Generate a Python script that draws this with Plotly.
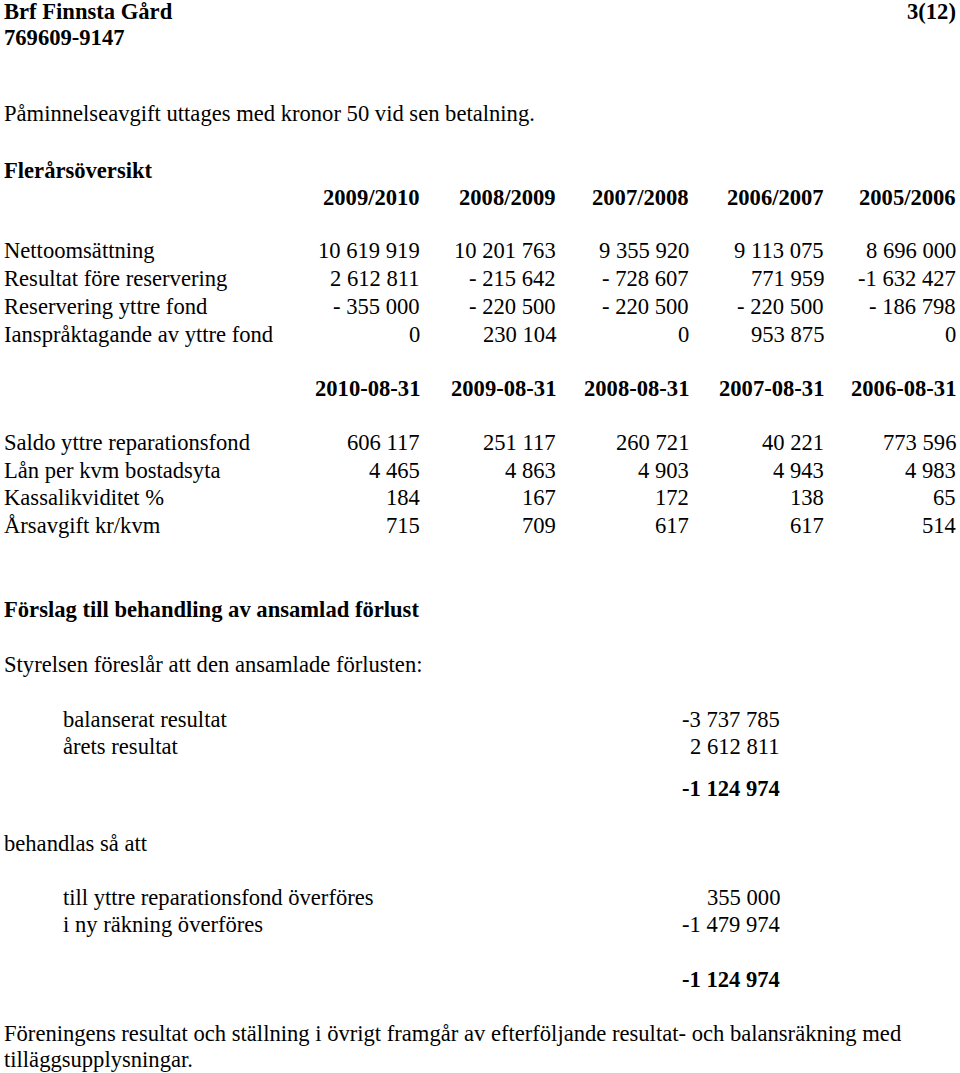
import plotly.graph_objects as go

# ---------------- data ----------------
org_name = "Brf Finnsta Gård"
org_number = "769609-9147"
page_no = "3(12)"
reminder_text = "Påminnelseavgift uttages med kronor 50 vid sen betalning."

section1_title = "Flerårsöversikt"
years = ["2009/2010", "2008/2009", "2007/2008", "2006/2007", "2005/2006"]
rows1_labels = ["Nettoomsättning", "Resultat före reservering",
                "Reservering yttre fond", "Ianspråktagande av yttre fond"]
nettoomsattning = ["10 619 919", "10 201 763", "9 355 920", "9 113 075", "8 696 000"]
resultat_fore_res = ["2 612 811", "- 215 642", "- 728 607", "771 959", "-1 632 427"]
reservering_fond = ["- 355 000", "- 220 500", "- 220 500", "- 220 500", "- 186 798"]
ianspraktagande = ["0", "230 104", "0", "953 875", "0"]

dates = ["2010-08-31", "2009-08-31", "2008-08-31", "2007-08-31", "2006-08-31"]
rows2_labels = ["Saldo yttre reparationsfond", "Lån per kvm bostadsyta",
                "Kassalikviditet %", "Årsavgift kr/kvm"]
saldo_fond = ["606 117", "251 117", "260 721", "40 221", "773 596"]
lan_per_kvm = ["4 465", "4 863", "4 903", "4 943", "4 983"]
kassalikviditet = ["184", "167", "172", "138", "65"]
arsavgift = ["715", "709", "617", "617", "514"]

section2_title = "Förslag till behandling av ansamlad förlust"
proposal_intro = "Styrelsen föreslår att den ansamlade förlusten:"
loss_labels = ["balanserat resultat", "årets resultat"]
loss_values = ["-3 737 785", "2 612 811"]
loss_total = "-1 124 974"
treat_intro = "behandlas så att"
treat_labels = ["till yttre reparationsfond överföres", "i ny räkning överföres"]
treat_values = ["355 000", "-1 479 974"]
treat_total = "-1 124 974"
footer_lines = ["Föreningens resultat och ställning i övrigt framgår av efterföljande resultat- och balansräkning med",
                "tilläggsupplysningar."]

# ---------------- layout helpers ----------------
W, H = 960, 1073
FONT = "Liberation Serif"
FS = 22.6
col_right = [420, 556, 689, 824, 956]
left_x = 4
indent_x = 63
value_right = 780

annotations = []


def txt(x, y, s, anchor="left", bold=False):
    annotations.append(dict(
        x=x, y=y, xref="x", yref="y", text=("<b>%s</b>" % s) if bold else s,
        showarrow=False, xanchor=anchor, yanchor="middle",
        font=dict(family=FONT, size=FS, color="black"),
        borderpad=0, borderwidth=0,
    ))


txt(left_x, 11, org_name, bold=True)
txt(left_x, 37, org_number, bold=True)
txt(col_right[-1], 11, page_no, anchor="right", bold=True)
txt(left_x, 113, reminder_text)

txt(left_x, 170, section1_title, bold=True)
for i, yr in enumerate(years):
    txt(col_right[i], 197, yr, anchor="right", bold=True)

rows1 = [nettoomsattning, resultat_fore_res, reservering_fond, ianspraktagande]
rows1_y = [250, 278, 306, 334]
for lab, vals, y in zip(rows1_labels, rows1, rows1_y):
    txt(left_x, y, lab)
    for i, v in enumerate(vals):
        txt(col_right[i], y, v, anchor="right")

for i, d in enumerate(dates):
    txt(col_right[i], 388, d, anchor="right", bold=True)

rows2 = [saldo_fond, lan_per_kvm, kassalikviditet, arsavgift]
rows2_y = [442, 470, 497, 525]
for lab, vals, y in zip(rows2_labels, rows2, rows2_y):
    txt(left_x, y, lab)
    for i, v in enumerate(vals):
        txt(col_right[i], y, v, anchor="right")

txt(left_x, 609, section2_title, bold=True)
txt(left_x, 664, proposal_intro)
for lab, v, y in zip(loss_labels, loss_values, [719, 746]):
    txt(indent_x, y, lab)
    txt(value_right, y, v, anchor="right")
txt(value_right, 788, loss_total, anchor="right", bold=True)

txt(left_x, 843, treat_intro)
for lab, v, y in zip(treat_labels, treat_values, [897, 924]):
    txt(indent_x, y, lab)
    txt(value_right, y, v, anchor="right")
txt(value_right, 979, treat_total, anchor="right", bold=True)

for line, y in zip(footer_lines, [1033, 1059]):
    txt(left_x, y, line)

fig = go.Figure()
fig.add_trace(go.Scatter(x=[0, W], y=[0, H], mode="markers",
                         marker=dict(opacity=0), hoverinfo="skip", showlegend=False))
fig.update_layout(
    width=W, height=H,
    margin=dict(l=0, r=0, t=0, b=0),
    paper_bgcolor="white", plot_bgcolor="white",
    xaxis=dict(range=[0, W], visible=False, fixedrange=True),
    yaxis=dict(range=[H, 0], visible=False, fixedrange=True),
    annotations=annotations,
    showlegend=False,
)
fig.write_html("out.html", config={"displayModeBar": False},
               post_script="document.body.style.margin='0px';document.body.style.overflow='hidden';")
